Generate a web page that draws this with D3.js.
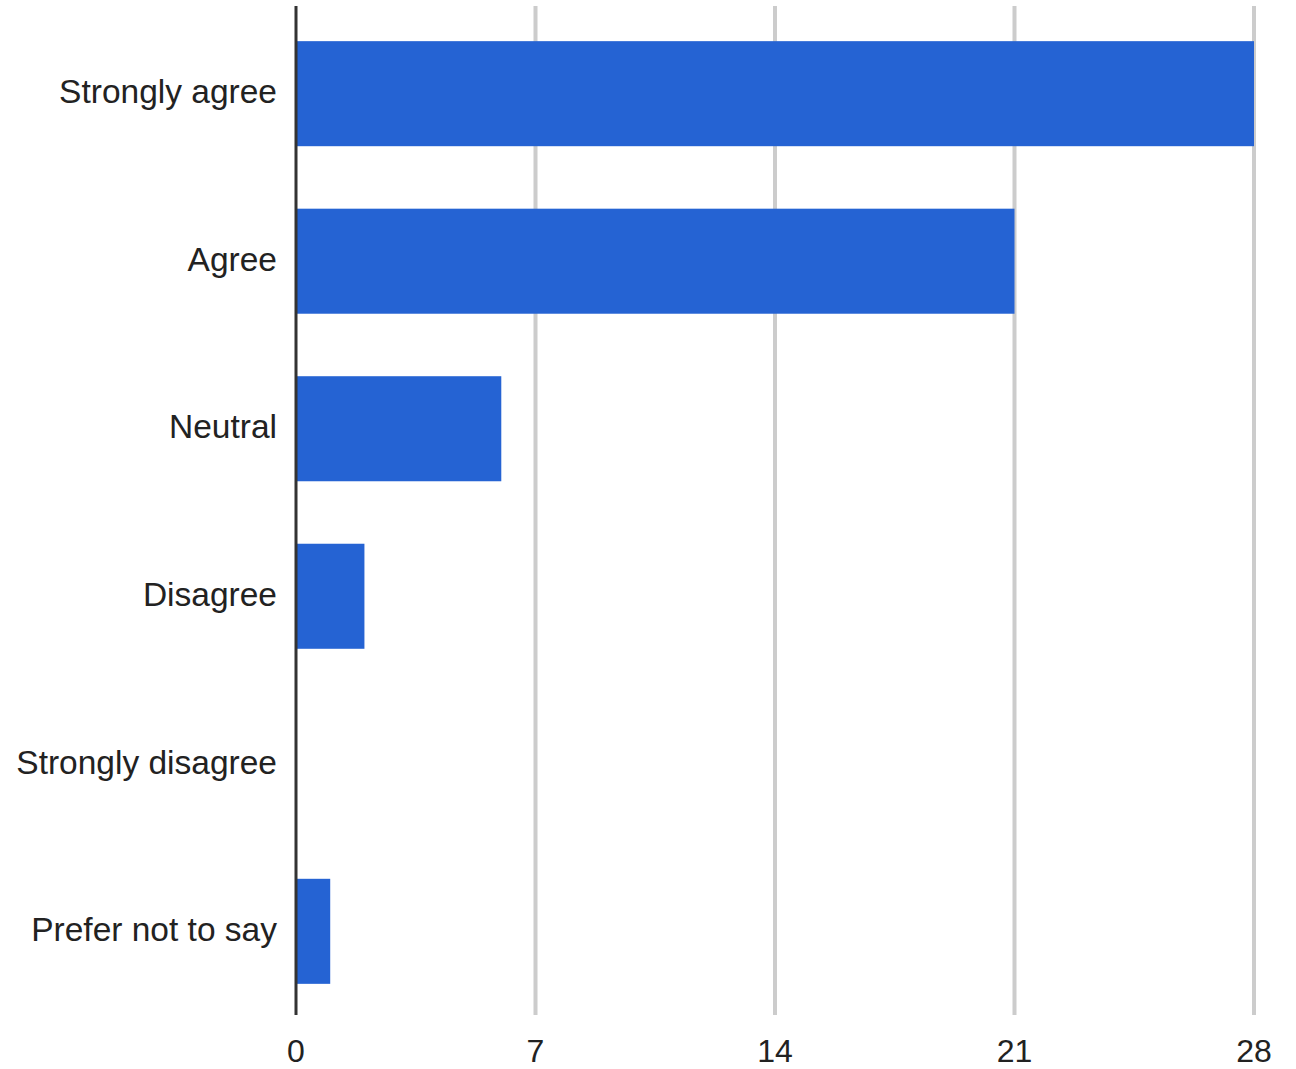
<!DOCTYPE html>
<html>
<head>
<meta charset="utf-8">
<script src="https://cdn.jsdelivr.net/npm/d3@7"></script>
<style>
  body { margin: 0; background: #fff; }
  svg text { font-family: "Liberation Sans", Arial, sans-serif; fill: #222; }
</style>
</head>
<body>
<svg id="chart" width="1296" height="1069"></svg>
<script>
// survey answers and counts
const categories = ["Strongly agree", "Agree", "Neutral", "Disagree", "Strongly disagree", "Prefer not to say"];
const counts = [28, 21, 6, 2, 0, 1];
const tickValues = [0, 7, 14, 21, 28];

const width = 1296;
const height = 1069;
const margin = { top: 10, right: 42, bottom: 54, left: 296 };

const svg = d3.select("#chart");

const xScale = d3
  .scaleLinear()
  .domain([0, 28])
  .range([margin.left, width - margin.right]);

const yScale = d3
  .scaleBand()
  .domain(categories)
  .range([margin.top, height - margin.bottom])
  .paddingInner(0.373)
  .paddingOuter(0.186);

// Gridlines
svg
  .append("g")
  .selectAll("line")
  .data(tickValues.filter((d) => d > 0))
  .enter()
  .append("line")
  .attr("x1", (d) => xScale(d))
  .attr("x2", (d) => xScale(d))
  .attr("y1", 6)
  .attr("y2", height - margin.bottom)
  .attr("stroke", "#cccccc")
  .attr("stroke-width", 4);

// Bars
svg
  .append("g")
  .selectAll("rect")
  .data(categories)
  .enter()
  .append("rect")
  .attr("x", xScale(0))
  .attr("y", (d) => yScale(d))
  .attr("width", (d, i) => xScale(counts[i]) - xScale(0))
  .attr("height", yScale.bandwidth())
  .attr("fill", "#2563d3");

// Baseline
svg
  .append("line")
  .attr("x1", xScale(0))
  .attr("x2", xScale(0))
  .attr("y1", 6)
  .attr("y2", height - margin.bottom)
  .attr("stroke", "#333")
  .attr("stroke-width", 3);

// Category labels
svg
  .append("g")
  .selectAll("text")
  .data(categories)
  .enter()
  .append("text")
  .attr("x", margin.left - 19)
  .attr("y", (d) => yScale(d) + yScale.bandwidth() / 2 - 2)
  .attr("dy", "0.35em")
  .attr("text-anchor", "end")
  .style("font-size", "33.5px")
  .text((d) => d);

// X tick labels
svg
  .append("g")
  .selectAll("text")
  .data(tickValues)
  .enter()
  .append("text")
  .attr("x", (d) => xScale(d))
  .attr("y", 1062)
  .attr("text-anchor", "middle")
  .style("font-size", "32px")
  .text((d) => d);
</script>
</body>
</html>
